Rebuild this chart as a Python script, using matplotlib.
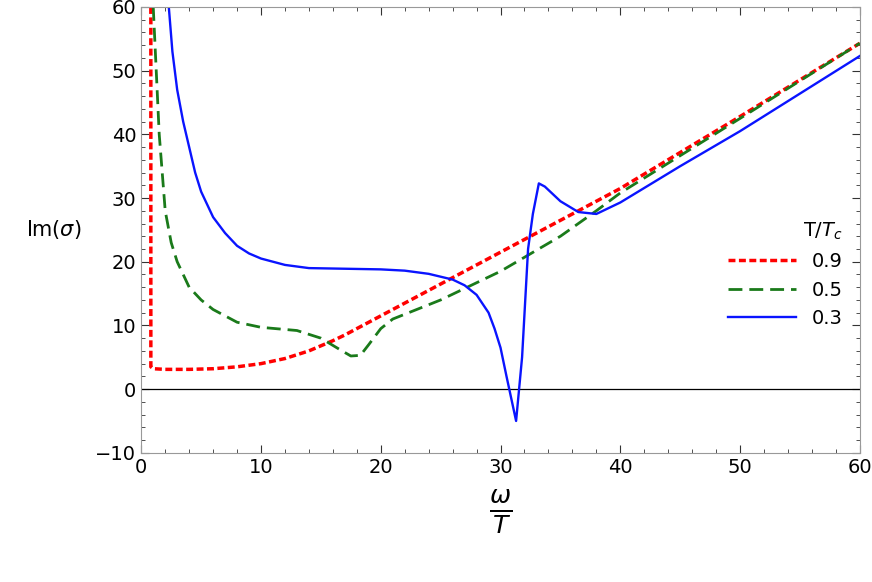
import matplotlib
matplotlib.use("Agg")
import matplotlib.pyplot as plt
from matplotlib.ticker import MultipleLocator

x09 = [0.8, 0.8, 1.0, 2, 4, 6, 8, 10, 12, 14, 16, 17, 18, 20, 25, 30, 40, 50, 60]
y09 = [60, 3.5, 3.2, 3.1, 3.1, 3.2, 3.5, 4.0, 4.8, 6.0, 7.6, 8.5, 9.5, 11.5, 16.5, 21.5, 31.5, 42.8, 54.3]
x05 = [1.0, 1.5, 2, 2.5, 3, 4, 5, 6, 8, 10, 13, 15, 16.5, 17.5, 18.3, 19, 20, 21, 25, 30, 35, 38, 40, 50, 60]
y05 = [60, 40, 28, 23, 20, 16, 14, 12.5, 10.5, 9.7, 9.2, 8.0, 6.3, 5.2, 5.3, 7.0, 9.5, 11.0, 14.0, 18.5, 24.0, 28.0, 30.8, 42.5, 54.3]
x03 = [2.3, 2.6, 3, 3.5, 4, 4.5, 5, 6, 7, 8, 9, 10, 12, 14, 20, 22, 24, 26, 27, 28, 29, 29.5, 30, 30.5, 31.3, 31.8, 32.3, 32.7, 33.2, 33.7, 35, 36.5, 38, 40, 45, 50, 60]
y03 = [60, 53, 47, 42, 38, 34, 31, 27, 24.5, 22.5, 21.3, 20.5, 19.5, 19.0, 18.8, 18.6, 18.1, 17.2, 16.3, 14.8, 12.0, 9.5, 6.5, 2.0, -5.0, 5.0, 22.0, 27.5, 32.3, 31.8, 29.5, 27.8, 27.5, 29.3, 35.0, 40.5, 52.3]

fig = plt.figure(figsize=(8.72, 5.82), dpi=100)
ax = fig.add_axes([0.162, 0.222, 0.824, 0.766])
ax.axhline(0, color="black", lw=0.9)
ax.plot(x09, y09, color="red", lw=2.5, ls=(0, (2, 1)), label="0.9")
ax.plot(x05, y05, color="#1a7a1a", lw=2, ls=(0, (5, 2.5)), label="0.5")
ax.plot(x03, y03, color="#0a14ff", lw=1.7, label="0.3")
ax.set_xlim(0, 60)
ax.set_ylim(-10, 60)
ax.xaxis.set_major_locator(MultipleLocator(10))
ax.xaxis.set_minor_locator(MultipleLocator(2))
ax.yaxis.set_minor_locator(MultipleLocator(2))
ax.tick_params(which="both", direction="in", top=True, right=True, labelsize=14, colors="#333333", labelcolor="black")
ax.tick_params(which="major", length=6)
ax.tick_params(which="minor", length=3)
ax.set_yticks(range(-10, 61, 10))
ax.set_yticklabels(["\u221210", "0", "10", "20", "30", "40", "50", "60"])
for s in ax.spines.values():
    s.set_color("#999999")
ax.set_ylabel(r"Im($\sigma$)", fontsize=15, rotation=0, labelpad=30, va="center")
ax.set_xlabel(r"$\frac{\omega}{T}$", fontsize=26, labelpad=8)
ax.legend(title=r"T/$T_c$", loc="lower right", bbox_to_anchor=(1.0, 0.24), frameon=False,
          fontsize=14, title_fontsize=14, handlelength=3.5, alignment="right")
fig.savefig("out.png", dpi=100)
